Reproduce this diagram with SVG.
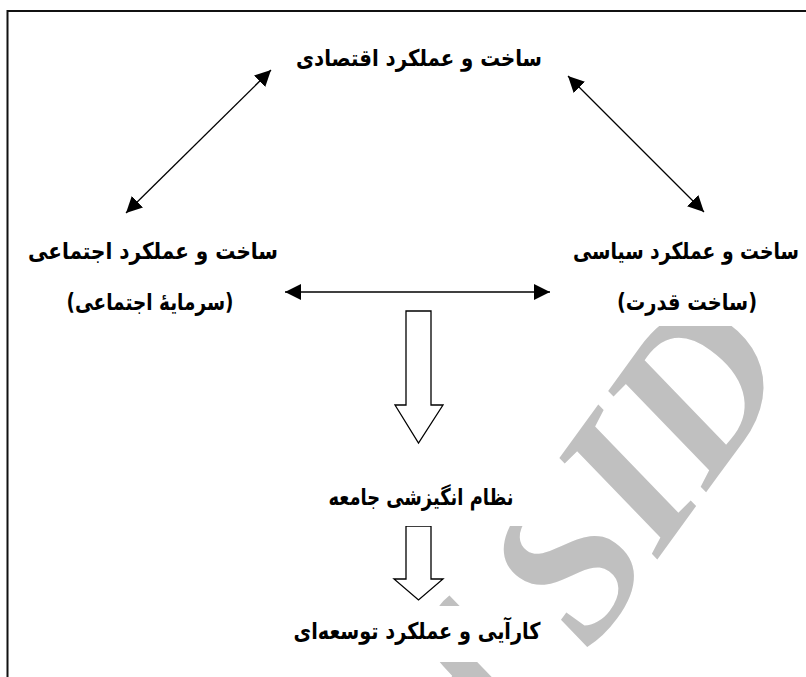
<svg xmlns="http://www.w3.org/2000/svg" width="806" height="677" viewBox="0 0 806 677">
<style>
.lbl{font-family:"DejaVu Sans","Noto Sans",sans-serif;font-weight:bold;font-size:23px;fill:#000;text-anchor:middle}
.con{stroke:#000;stroke-width:1.3;fill:none}
.hollow{fill:#fff;stroke:#000;stroke-width:1.3;stroke-linejoin:miter}
.frame{fill:#fff;stroke:none}
.wm{font-family:"Liberation Serif",serif;font-style:italic;font-weight:bold;font-size:212px;fill:#c0c0c0}
</style>
<defs>
<marker id="ah" markerUnits="userSpaceOnUse" markerWidth="16" markerHeight="16" viewBox="0 0 15 15" refX="15" refY="7.5" orient="auto-start-reverse">
<path d="M0,0 L15,7.5 L0,15 z" fill="#000"/>
</marker>
</defs>
<rect width="806" height="677" fill="#fff"/>
<g id="watermark">
<text class="wm" transform="translate(670,542) rotate(-54)" x="216" y="0" text-anchor="end">of SID</text>
</g>
<path d="M7.5,700 V11 H830" stroke="#111" stroke-width="2" fill="none"/>
<g id="connectors">
<line class="con" x1="126" y1="213" x2="271" y2="70" marker-start="url(#ah)" marker-end="url(#ah)"/>
<line class="con" x1="568" y1="76" x2="704" y2="212" marker-start="url(#ah)" marker-end="url(#ah)"/>
<line class="con" x1="285" y1="292" x2="550" y2="292" marker-start="url(#ah)" marker-end="url(#ah)"/>
<polygon class="hollow" points="406,311 431,311 431,405 443,405 418.5,443 395,405 406,405"/>
<polygon class="hollow" points="406,526 431,526 431,579 443,579 418.5,600 394,579 406,579"/>
</g>
<g id="n-economic">
<text class="lbl" x="419" y="66" textLength="246" lengthAdjust="spacingAndGlyphs">ساخت و عملکرد اقتصادی</text>
</g>
<g id="n-social">
<text class="lbl" x="153" y="259" textLength="250" lengthAdjust="spacingAndGlyphs">ساخت و عملکرد اجتماعی</text>
<text class="lbl" x="150" y="310" textLength="167" lengthAdjust="spacingAndGlyphs">(سرمایهٔ اجتماعی)</text>
</g>
<g id="n-political">
<rect class="frame" x="566" y="230" width="240" height="96"/>
<text class="lbl" x="686" y="259" textLength="226" lengthAdjust="spacingAndGlyphs">ساخت و عملکرد سیاسی</text>
<text class="lbl" x="687" y="310" textLength="140" lengthAdjust="spacingAndGlyphs">(ساخت قدرت)</text>
</g>
<g id="n-motivation">
<rect class="frame" x="250" y="466" width="330" height="60"/>
<text class="lbl" x="421" y="505" textLength="185" lengthAdjust="spacingAndGlyphs">نظام انگیزشی جامعه</text>
</g>
<g id="n-performance">
<rect class="frame" x="285" y="606" width="265" height="56"/>
<text class="lbl" x="417" y="639" textLength="247" lengthAdjust="spacingAndGlyphs">کارآیی و عملکرد توسعه‌ای</text>
</g>
</svg>
